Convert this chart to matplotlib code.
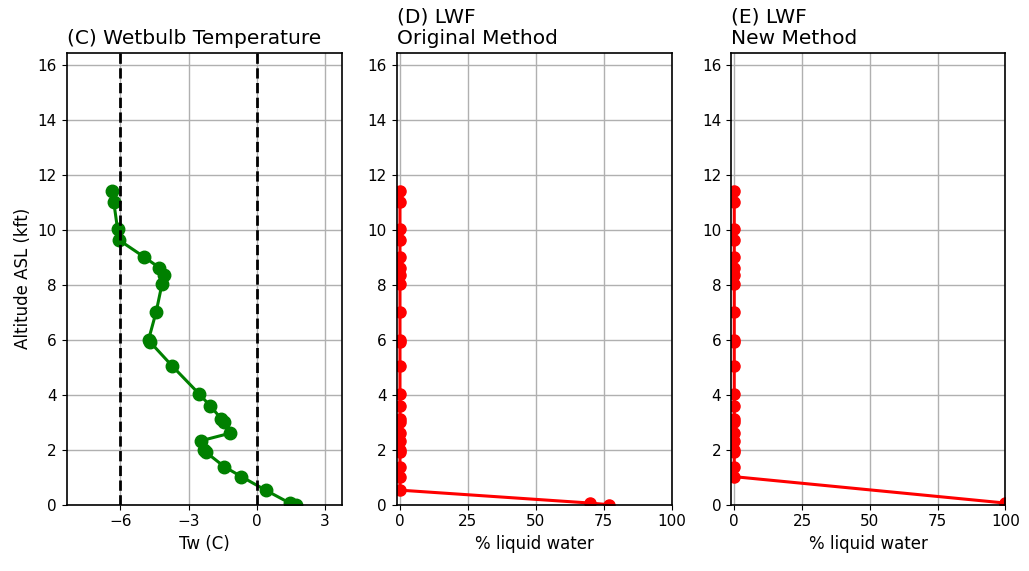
import numpy as np
import matplotlib
matplotlib.use("Agg")
import matplotlib.pyplot as plt

# sounding levels (kft ASL), top down
alt = [11.42, 11.02, 10.02, 9.64, 9.03, 8.63, 8.36, 8.02, 7.03, 6.00, 5.93,
       5.05, 4.03, 3.60, 3.12, 3.02, 2.60, 2.33, 2.00, 1.92, 1.38, 1.02,
       0.53, 0.06, 0.00]

# wetbulb temperature (C)
tw = [-6.36, -6.29, -6.12, -6.07, -4.98, -4.29, -4.07, -4.17, -4.42, -4.76,
      -4.70, -3.72, -2.53, -2.05, -1.55, -1.45, -1.18, -2.44, -2.30, -2.25,
      -1.42, -0.67, 0.39, 1.45, 1.74]

# liquid water fraction (%), original method
lwf_orig = [0, 0, 0, 0, 0, 0, 0, 0, 0, 0, 0, 0, 0, 0, 0, 0, 0, 0, 0, 0,
            0, 0, 0, 70, 77]

# new method has no value at 0.53 kft
alt_new = [11.42, 11.02, 10.02, 9.64, 9.03, 8.63, 8.36, 8.02, 7.03, 6.00,
           5.93, 5.05, 4.03, 3.60, 3.12, 3.02, 2.60, 2.33, 2.00, 1.92, 1.38,
           1.02, 0.06, 0.00]
lwf_new = [0, 0, 0, 0, 0, 0, 0, 0, 0, 0, 0, 0, 0, 0, 0, 0, 0, 0, 0, 0, 0,
           0, 100, 100]

tw_refs = [-6, 0]
tw_ticks = [-6, -3, 0, 3]
lwf_ticks = [0, 25, 50, 75, 100]
alt_ticks = np.arange(0, 17, 2)

fig = plt.figure(figsize=(10.29, 5.71), dpi=100)
bot, h, w = 0.1161, 0.7916, 0.2673
ax1 = fig.add_axes([0.0648, bot, w, h])
ax2 = fig.add_axes([0.3855, bot, w, h])
ax3 = fig.add_axes([0.7104, bot, 0.2666, h])

ax1.plot(tw, alt, "-o", color="green", lw=2.2, ms=9)
for t in tw_refs:
    ax1.axvline(t, color="black", ls="--", lw=2)
ax1.set_xlim(min(tw) - 2, max(tw) + 2)
ax1.set_xticks(tw_ticks)
ax1.set_xticklabels(["\u22126", "\u22123", "0", "3"])
ax1.set_xlabel("Tw (C)", fontsize=12)
ax1.set_ylabel("Altitude ASL (kft)", fontsize=12)
ax1.set_title("(C) Wetbulb Temperature", loc="left", fontsize=14.5)

ax2.plot(lwf_orig, alt, "-o", color="red", lw=2.2, ms=8)
ax2.set_title("(D) LWF\nOriginal Method", loc="left", fontsize=14.5,
              multialignment="left")

ax3.plot(lwf_new, alt_new, "-o", color="red", lw=2.2, ms=8)
ax3.set_title("(E) LWF\nNew Method", loc="left", fontsize=14.5,
              multialignment="left")

for ax in (ax2, ax3):
    ax.set_xlim(-1.2, 100)
    ax.set_xticks(lwf_ticks)
    ax.set_xlabel("% liquid water", fontsize=12)

for ax in (ax1, ax2, ax3):
    ax.set_ylim(0, 16.45)
    ax.set_yticks(alt_ticks)
    ax.grid(True, color="#b0b0b0", lw=1)
    ax.set_axisbelow(True)
    ax.tick_params(labelsize=11)
    for s in ax.spines.values():
        s.set_linewidth(1.2)

fig.savefig("out.png", dpi=100)
